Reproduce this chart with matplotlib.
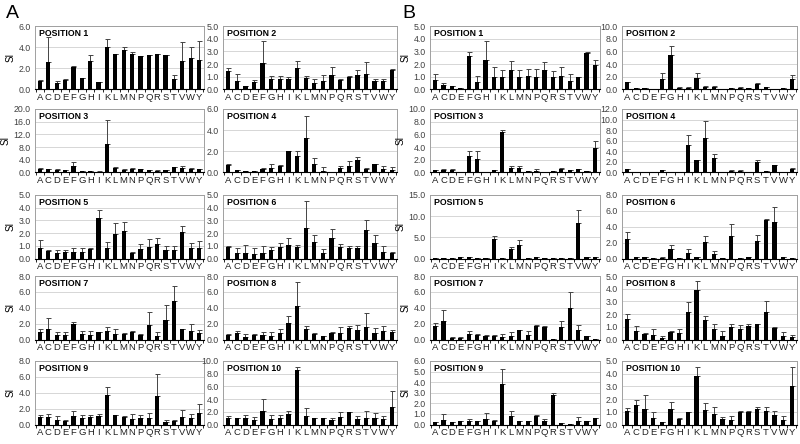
import numpy as np
import matplotlib.pyplot as plt
from matplotlib.ticker import FixedLocator, FormatStrFormatter

# amino acids on the x axis
residues = ['A', 'C', 'D', 'E', 'F', 'G', 'H', 'I', 'K', 'L',
            'M', 'N', 'P', 'Q', 'R', 'S', 'T', 'V', 'W', 'Y']

# panel A: mean SI and SD per position
a_mean = {
    1: [0.8, 2.6, 0.6, 0.9, 2.1, 1.05, 2.7, 0.7, 4.0, 3.4, 3.7, 3.35, 3.15, 3.3, 3.35, 3.3, 1.0, 2.7, 2.95, 2.8],
    2: [1.45, 0.7, 0.25, 0.6, 2.05, 0.85, 0.85, 0.85, 1.7, 0.9, 0.55, 0.65, 1.15, 0.75, 1.0, 1.15, 1.25, 0.7, 0.65, 1.55],
    3: [1.2, 1.0, 0.9, 0.7, 2.0, 0.4, 0.5, 0.3, 9.0, 1.3, 0.9, 1.0, 1.1, 0.8, 0.6, 0.7, 1.7, 1.5, 1.2, 1.0],
    4: [0.7, 0.2, 0.1, 0.1, 0.3, 0.45, 0.6, 2.0, 1.6, 3.3, 0.8, 0.1, 0.05, 0.4, 0.6, 1.2, 0.3, 0.8, 0.35, 0.25],
    5: [0.8, 0.6, 0.45, 0.5, 0.5, 0.5, 0.75, 3.2, 0.8, 1.9, 2.15, 0.45, 0.75, 0.9, 1.15, 0.65, 0.65, 2.1, 0.85, 0.85],
    6: [0.9, 0.4, 0.45, 0.35, 0.4, 0.7, 0.9, 1.1, 0.9, 2.4, 1.3, 0.45, 1.6, 0.9, 0.8, 0.85, 2.25, 1.25, 0.5, 0.45],
    7: [0.95, 1.35, 0.55, 0.55, 1.9, 0.7, 0.6, 0.95, 1.1, 0.7, 0.75, 1.0, 0.55, 1.85, 0.5, 2.5, 4.8, 1.3, 1.1, 0.8],
    8: [0.6, 0.8, 0.35, 0.6, 0.55, 0.4, 0.85, 2.1, 4.25, 1.3, 0.65, 0.45, 0.85, 0.8, 1.5, 1.15, 1.6, 0.8, 1.05, 0.95],
    9: [0.95, 0.9, 0.6, 0.4, 1.1, 0.8, 1.0, 1.05, 3.7, 1.2, 0.95, 0.75, 0.85, 0.8, 3.65, 0.35, 0.5, 1.0, 0.85, 1.45],
    10: [0.95, 1.0, 1.05, 0.7, 2.1, 0.85, 1.05, 1.65, 8.6, 1.4, 1.05, 1.05, 0.65, 1.2, 1.95, 0.9, 0.95, 1.1, 0.85, 2.75],
}
a_sd = {
    1: [0.1, 2.4, 0.2, 0.05, 0.1, 0.05, 0.6, 0, 0.8, 0, 0.3, 0.2, 0, 0, 0, 0, 0.35, 1.8, 1.1, 1.75],
    2: [0.25, 0.5, 0.05, 0.15, 1.8, 0.2, 0.2, 0.15, 0.55, 0.15, 0.25, 0.5, 0.6, 0.05, 0.1, 0.35, 0.95, 0.1, 0.2, 0.05],
    3: [0.2, 0.1, 0.1, 0.1, 1.3, 0.05, 0.05, 0.05, 7.5, 0.5, 0.2, 0.3, 0.15, 0.1, 0.1, 0.2, 0.1, 0.6, 0.2, 0.1],
    4: [0.15, 0.05, 0.02, 0.02, 0.1, 0.4, 0.15, 0, 0.45, 2.05, 0.55, 0.4, 0.02, 0.25, 0.45, 0.25, 0.1, 0, 0.25, 0.25],
    5: [0.65, 0.05, 0.2, 0.2, 0.3, 0.35, 0.1, 0.65, 0.5, 0.9, 0.75, 0.1, 0.4, 0.6, 0.5, 0.35, 0.3, 0.45, 0.35, 0.55],
    6: [0.1, 0.4, 0.6, 0.45, 0.6, 0.2, 0.3, 0.5, 0.2, 2.15, 0.55, 0.3, 0.7, 0.25, 0.15, 0.15, 0.8, 0.6, 0.5, 0.1],
    7: [0.35, 1.4, 0.45, 0.35, 0.35, 0.35, 0.45, 0.05, 0.5, 0.65, 0.1, 0.05, 0.1, 1.65, 0.45, 1.8, 1.95, 0, 0.85, 0.4],
    8: [0.15, 0.3, 0.4, 0.05, 0.4, 0.5, 0.45, 0.9, 2.95, 0.35, 0.2, 0.05, 0.1, 0.8, 0.25, 0.7, 1.8, 0.6, 0.6, 0.2],
    9: [0.25, 0.4, 0.45, 0.15, 0.6, 0.4, 0.2, 0.25, 1.05, 0.05, 0.15, 0.6, 0.35, 0.65, 2.65, 0.25, 0.1, 0.8, 0.45, 1.1],
    10: [0.4, 0.1, 0.4, 0.55, 1.9, 0.65, 0.4, 0.4, 0.4, 1.2, 0.05, 0.05, 0.35, 0.75, 0.05, 0.4, 1.15, 0.75, 0.45, 2.45],
}

# panel B: mean SI and SD per position
b_mean = {
    1: [0.75, 0.35, 0.25, 0.1, 2.6, 0.6, 2.3, 1.0, 0.95, 1.5, 1.0, 1.05, 0.95, 1.5, 0.95, 1.05, 0.7, 1.0, 2.9, 1.95],
    2: [1.2, 0.2, 0.2, 0.05, 1.6, 5.5, 0.3, 0.3, 1.75, 0.45, 0.35, 0.1, 0.2, 0.3, 0.2, 0.85, 0.4, 0.1, 0.2, 1.7],
    3: [0.4, 0.45, 0.45, 0.1, 2.6, 2.1, 0.1, 0.35, 6.3, 0.65, 0.7, 0.2, 0.3, 0.1, 0.2, 0.5, 0.35, 0.5, 0.2, 3.8],
    4: [0.7, 0.1, 0.05, 0.05, 0.4, 0.05, 0.05, 5.2, 2.35, 6.6, 2.8, 0.1, 0.3, 0.35, 0.1, 2.0, 0.2, 1.4, 0.1, 0.7],
    5: [0.1, 0.1, 0.05, 0.3, 0.25, 0.15, 0.15, 4.7, 0.05, 2.2, 3.2, 0.05, 0.3, 0.1, 0.05, 0.05, 0.05, 8.5, 0.25, 0.25],
    6: [2.4, 0.15, 0.15, 0.1, 0.05, 1.2, 0.1, 0.75, 0.2, 2.1, 0.55, 0.05, 2.8, 0.1, 0.15, 2.2, 4.85, 4.55, 0.15, 0.05],
    7: [1.7, 2.35, 0.15, 0.2, 0.7, 0.6, 0.45, 0.5, 0.35, 0.5, 1.2, 0.6, 1.7, 1.6, 0.05, 1.6, 3.95, 1.2, 0.4, 0.1],
    8: [1.65, 0.65, 0.45, 0.35, 0.15, 0.6, 0.55, 2.15, 3.9, 1.5, 0.85, 0.3, 1.0, 0.8, 1.05, 1.2, 2.2, 0.9, 0.25, 0.2],
    9: [0.2, 0.45, 0.25, 0.3, 0.35, 0.3, 0.55, 0.35, 3.85, 0.85, 0.3, 0.3, 0.85, 0.3, 2.75, 0.15, 0.05, 0.35, 0.35, 0.6],
    10: [1.1, 1.55, 1.25, 0.55, 0.2, 1.25, 0.4, 0.95, 3.8, 1.15, 0.85, 0.45, 0.35, 0.95, 0.95, 1.2, 1.05, 0.75, 0.35, 3.05],
}
b_sd = {
    1: [0.45, 0.15, 0.05, 0.02, 0.35, 0.45, 1.55, 0.8, 0.55, 0.75, 0.5, 0.6, 0.65, 0.65, 0.5, 0.7, 0.5, 0, 0.05, 0.35],
    2: [0.05, 0.02, 0.02, 0.02, 1.05, 1.4, 0.05, 0.05, 0.85, 0.05, 0.25, 0.02, 0.05, 0.05, 0.02, 0.1, 0.05, 0.02, 0.02, 0.65],
    3: [0.05, 0.15, 0.15, 0.02, 0.75, 1.25, 0.02, 0.05, 0.4, 0.4, 0.35, 0.02, 0.25, 0.02, 0.05, 0.2, 0.05, 0.05, 0.02, 1.1],
    4: [0.05, 0.02, 0.02, 0.02, 0.05, 0.02, 0.02, 1.9, 0.05, 3.1, 0.75, 0.02, 0.1, 0.05, 0.02, 0.4, 0.05, 0.05, 0.02, 0.1],
    5: [0.02, 0.02, 0.02, 0.05, 0.05, 0.02, 0.02, 0.6, 0.02, 0.5, 1.1, 0.02, 0.05, 0.02, 0.02, 0.02, 0.02, 3.0, 0.05, 0.05],
    6: [1.0, 0.02, 0.02, 0.02, 0.15, 0.45, 0.02, 0.5, 0.02, 0.75, 0.45, 0.02, 1.55, 0.02, 0.02, 0.75, 0.15, 1.95, 0.02, 0.02],
    7: [0.4, 1.35, 0.15, 0.15, 0.4, 0.05, 0.1, 0.02, 0.3, 0.5, 0.05, 0.45, 0.15, 0.05, 0.02, 0.75, 2.05, 0.6, 0.1, 0.02],
    8: [0.35, 0.4, 0.05, 0.45, 0.15, 0.1, 0.25, 0.8, 0.7, 0.35, 0.35, 0.35, 0.25, 0.35, 0.15, 0.02, 0.8, 0.05, 0.35, 0.15],
    9: [0.05, 0.5, 0.02, 0.02, 0.15, 0.02, 0.5, 0.1, 1.4, 0.45, 0.02, 0.02, 0.05, 0.2, 0.25, 0.02, 0.02, 0.4, 0.02, 0.02],
    10: [0.2, 0.4, 1.1, 0.45, 0.02, 0.5, 0.1, 0.05, 0.7, 0.55, 0.5, 0.15, 0.3, 0.15, 0.1, 0.2, 0.3, 0.3, 0.3, 1.45],
}

# y axis max and tick step for every panel
a_ylim = {1: (6, 2), 2: (5, 1), 3: (20, 4), 4: (6, 2), 5: (5, 1),
          6: (5, 1), 7: (8, 2), 8: (8, 2), 9: (8, 2), 10: (10, 2)}
b_ylim = {1: (5, 1), 2: (10, 2), 3: (10, 2), 4: (12, 2), 5: (15, 5),
          6: (8, 2), 7: (8, 2), 8: (5, 1), 9: (6, 1), 10: (5, 1)}

W, H = 800, 444
fig = plt.figure(figsize=(W / 100, H / 100), dpi=100)
plt.rcParams['font.family'] = ['Arial', 'Liberation Sans', 'DejaVu Sans']

row_top = [26, 109, 195, 276, 361]
ax_h = 63.5
# left edge, right edge (pixels) of the four columns
cols = [(35, 204), (223, 397), (430, 600), (622, 797)]

x = np.arange(len(residues))


def draw_panel(ax, mean, sd, ymax, step, pos, ylabel):
    ax.bar(x, mean, width=0.5, color='black', zorder=3)
    ax.errorbar(x, mean, yerr=[np.zeros(len(sd)), sd], fmt='none',
                ecolor='#444444', elinewidth=0.7, capsize=1.8, capthick=0.7, zorder=2)
    ax.set_xlim(-0.6, len(residues) - 0.4)
    ax.set_ylim(0, ymax)
    ticks = np.arange(0, ymax + step / 2, step)
    ax.yaxis.set_major_locator(FixedLocator(ticks))
    ax.yaxis.set_major_formatter(FormatStrFormatter('%.1f'))
    ax.grid(axis='y', color='#d0d0d0', linewidth=0.6, zorder=0)
    ax.set_xticks(x)
    ax.set_xticklabels(residues, fontsize=6.8, color='#202020')
    ax.set_xticks(np.arange(-0.5, len(residues)), minor=True)
    ax.tick_params(axis='x', which='major', length=0, pad=2.5)
    ax.tick_params(axis='x', which='minor', length=2, width=0.6, color='black')
    ax.tick_params(axis='y', length=0, labelsize=6.3, labelcolor='#404040', pad=3)
    for side in ['left', 'top', 'right']:
        ax.spines[side].set_color('#a0a0a0')
        ax.spines[side].set_linewidth(0.7)
    ax.spines['bottom'].set_color('black')
    ax.spines['bottom'].set_linewidth(0.8)
    ax.text(0.025, 0.95, 'POSITION %d' % pos, transform=ax.transAxes,
            fontsize=6.3, fontweight='bold', va='top', ha='left')
    if ylabel:
        ax.set_ylabel('SI', fontsize=7, labelpad=2)


for g, (means, sds, lims, c0) in enumerate([(a_mean, a_sd, a_ylim, 0), (b_mean, b_sd, b_ylim, 2)]):
    for pos in range(1, 11):
        r = (pos - 1) // 2
        c = c0 + (pos - 1) % 2
        left, right = cols[c]
        top = row_top[r]
        ax = fig.add_axes([left / W, 1 - (top + ax_h) / H, (right - left) / W, ax_h / H])
        ymax, step = lims[pos]
        draw_panel(ax, means[pos], sds[pos], ymax, step, pos, c % 2 == 0)

fig.text(6 / W, 1 - 13 / H, 'A', fontsize=14, va='center', ha='left')
fig.text(402 / W, 1 - 13 / H, 'B', fontsize=14, va='center', ha='left')

fig.savefig('out.png', dpi=100)
